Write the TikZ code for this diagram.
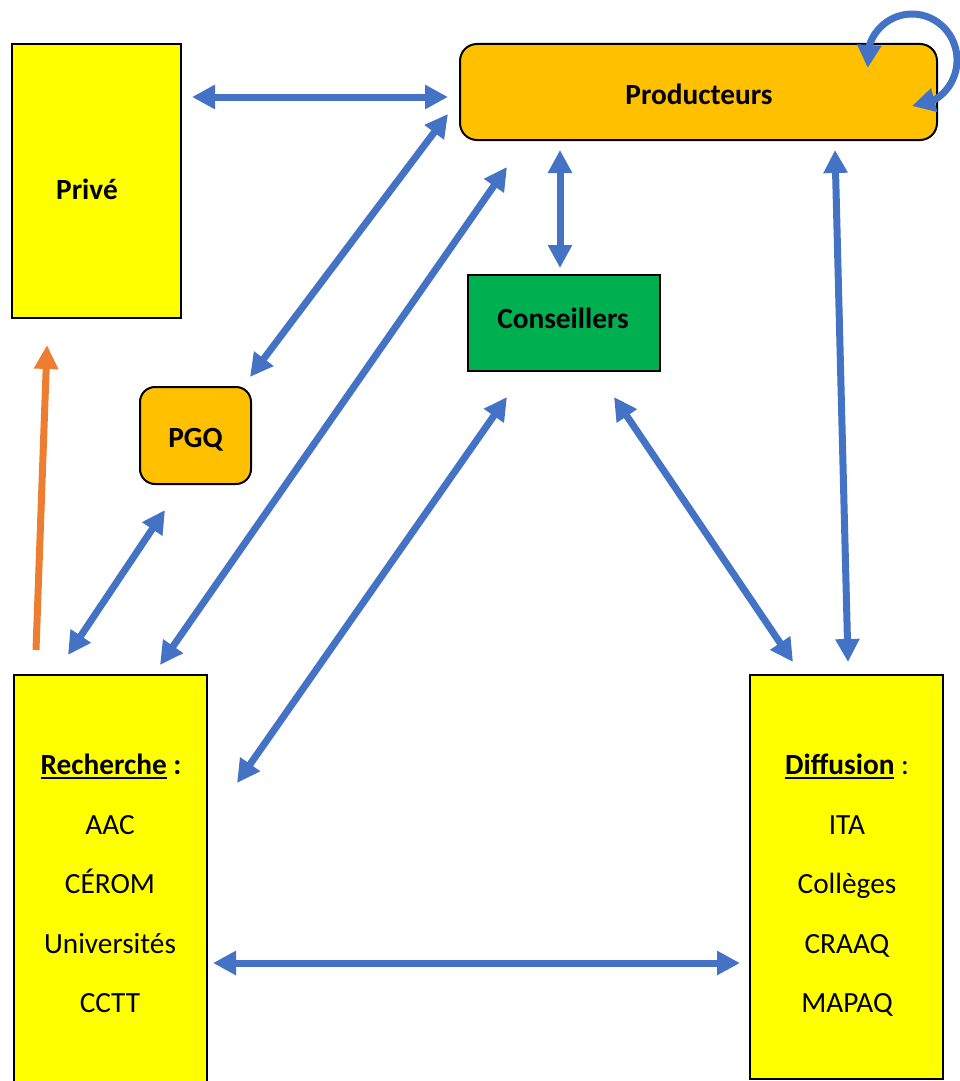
\documentclass[tikz,border=0pt]{standalone}
\usepackage{fontspec}
\setmainfont{Carlito}
\usetikzlibrary{arrows.meta,bending,calc}
\definecolor{boxyellow}{HTML}{FFFF00}
\definecolor{boxorange}{HTML}{FFC000}
\definecolor{boxgreen}{HTML}{00B050}
\definecolor{linkblue}{HTML}{4472C4}
\definecolor{linkorange}{HTML}{ED7D31}
% thick underline sitting a little below the baseline
\newsavebox\undertextbox
\newcommand\undertext[1]{\sbox\undertextbox{#1}\rlap{\rule[-5pt]{\wd\undertextbox}{2pt}}\usebox\undertextbox}
\begin{document}
\begin{tikzpicture}[x=1pt,y=-1pt,
  panel/.style={draw=black,line width=2pt,inner sep=0pt,outer sep=0pt},
  yellowbox/.style={panel,fill=boxyellow},
  orangebox/.style={panel,fill=boxorange,rounded corners=17pt},
  greenbox/.style={panel,fill=boxgreen},
  txt/.style={anchor=base,inner sep=0pt,font=\fontsize{29.3}{35}\selectfont},
  btxt/.style={txt,font=\fontsize{29.3}{35}\selectfont\bfseries},
  link/.style={draw=linkblue,line width=7pt,{Triangle[length=23pt,width=23pt]}-{Triangle[length=23pt,width=23pt]}},
  oneway/.style={draw=linkorange,line width=7pt,-{Triangle[length=24pt,width=23pt]}}]
\useasboundingbox (0,0) rectangle (960,1081);

% boxes
\node[yellowbox,minimum width=169pt,minimum height=274pt] (prive) at (96.5,181) {};
\node[orangebox,minimum width=477pt,minimum height=96pt] (prod) at (698.5,92) {};
\node[greenbox,minimum width=192pt,minimum height=96pt] (cons) at (564,323) {};
\node[orangebox,rounded corners=15pt,minimum width=111pt,minimum height=97pt] (pgq) at (195.5,435.5) {};
\node[yellowbox,minimum width=193pt,minimum height=422pt] (rech) at (110.5,886) {};
\node[yellowbox,minimum width=193pt,minimum height=404pt] (diff) at (846.5,877) {};

% labels
\node[btxt] (prive-t) at (87,199) {Privé};
\node[btxt] (prod-t) at (699,104) {Producteurs};
\node[btxt] (cons-t) at (563,328) {Conseillers};
\node[btxt] (pgq-t) at (195.5,447) {PGQ};

\node[btxt] (rech-t) at (111,774) {\undertext{Recherche} :};
\node[txt] (rech-1) at (110,834) {AAC};
\node[txt] (rech-2) at (110,893.5) {CÉROM};
\node[txt] (rech-3) at (110,953) {Universités};
\node[txt] (rech-4) at (110,1012.5) {CCTT};

\node[txt] (diff-t) at (847,774) {\textbf{\undertext{Diffusion}} :};
\node[txt] (diff-1) at (847,834) {ITA};
\node[txt] (diff-2) at (847,893.5) {Collèges};
\node[txt] (diff-3) at (847,953) {CRAAQ};
\node[txt] (diff-4) at (847,1012.5) {MAPAQ};

% two-way links
\draw[link] ($(prive.north east)+(11,53)$) -- ($(prod.west)+(-12,5)$);
\draw[link] ($(prod.south west)+(-12,-26)$) -- ($(pgq.north east)+(-1,-10)$);
\draw[link] ($(prod.south west)+(47,27)$) -- ($(rech.north east)+(-47,-10)$);
\draw[link] ($(prod.south west)+(100,10)$) -- ($(cons.north)+(-4,-7)$);
\draw[link] ($(prod.south east)+(-102,10)$) -- ($(diff.north)+(1.5,-13)$);
\draw[link] ($(cons.south)+(-57,26)$) -- ($(rech.north east)+(30,108)$);
\draw[link] ($(cons.south)+(50,26)$) -- ($(diff.north west)+(43,-13)$);
\draw[link] ($(pgq.south)+(-30.5,26)$) -- ($(rech.north)+(-42.5,-20)$);
\draw[link] ($(rech.east)+(6,77)$) -- ($(diff.west)+(-10,86)$);

% loop on the producers
\draw[link] ($(prod.north east)+(-69.3,24)$) arc[start angle=170,end angle=450,x radius=45,y radius=46];

% research towards the private sector
\draw[oneway] ($(rech.north west)+(22,-25)$) -- ($(prive.south west)+(35,27)$);
\end{tikzpicture}
\end{document}
